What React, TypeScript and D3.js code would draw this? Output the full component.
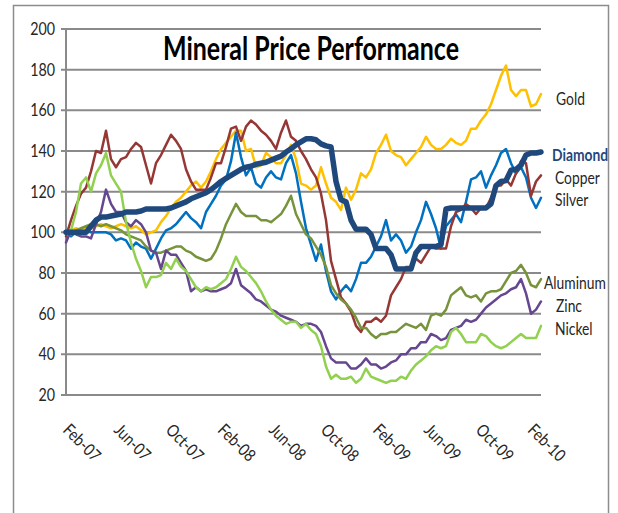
import React from "react";
import * as d3 from "d3";

// ---------- data ----------
const yTicks = [20, 40, 60, 80, 100, 120, 140, 160, 180, 200];
const xTickDates = [
  "2007-02-01", "2007-06-01", "2007-10-01", "2008-02-01", "2008-06-01",
  "2008-10-01", "2009-02-01", "2009-06-01", "2009-10-01", "2010-02-01",
];
const xTickLabels = [
  "Feb-07", "Jun-07", "Oct-07", "Feb-08", "Jun-08",
  "Oct-08", "Feb-09", "Jun-09", "Oct-09", "Feb-10",
];
const dateStart = "2007-02-01";
const dateEnd = "2010-02-25";

const gold = [100, 101, 102, 101, 103, 102, 103, 104, 103, 102, 103, 104, 103, 102, 103, 101, 99, 100, 101, 105, 108, 112, 115, 117, 120, 123, 125, 122, 125, 130, 136, 141, 144, 147, 150, 150, 140, 141, 132, 133, 139, 137, 134, 134, 138, 143, 136, 124, 123, 121, 123, 132, 124, 117, 115, 111, 122, 116, 121, 129, 127, 131, 139, 143, 148, 140, 138, 137, 133, 136, 139, 142, 147, 143, 141, 141, 143, 146, 144, 143, 145, 151, 151, 155, 158, 163, 170, 177, 182, 170, 167, 170, 170, 162, 163, 168];
const silver = [100, 98, 100, 100, 101, 100, 100, 100, 100, 99, 96, 97, 96, 92, 95, 93, 92, 87, 92, 97, 101, 102, 104, 107, 110, 107, 105, 102, 110, 114, 118, 123, 126, 135, 149, 137, 128, 132, 124, 122, 127, 130, 127, 126, 134, 138, 129, 115, 102, 94, 86, 94, 81, 71, 67, 71, 74, 71, 77, 85, 85, 88, 93, 98, 106, 96, 99, 96, 90, 93, 100, 106, 115, 109, 102, 92, 103, 106, 109, 105, 115, 126, 127, 130, 122, 128, 133, 139, 141, 134, 129, 132, 127, 117, 112, 117];
const copper = [98, 106, 113, 119, 122, 130, 140, 139, 150, 136, 132, 136, 137, 141, 144, 142, 133, 124, 134, 138, 143, 148, 145, 141, 131, 125, 121, 121, 121, 127, 134, 134, 142, 151, 152, 145, 152, 155, 153, 150, 148, 145, 141, 149, 155, 147, 145, 140, 136, 131, 127, 119, 106, 86, 77, 68, 65, 61, 54, 51, 56, 56, 58, 56, 59, 69, 73, 77, 83, 83, 87, 85, 89, 93, 92, 92, 92, 103, 110, 111, 114, 112, 109, 112, 112, 117, 123, 123, 126, 123, 129, 135, 134, 118, 125, 128];
const aluminum = [100, 99, 101, 102, 103, 104, 104, 103, 104, 103, 102, 101, 99, 98, 97, 96, 93, 91, 90, 90, 91, 92, 93, 93, 91, 90, 88, 87, 86, 87, 91, 97, 104, 109, 114, 110, 108, 108, 108, 106, 106, 105, 107, 109, 113, 118, 109, 104, 99, 97, 93, 89, 83, 74, 70, 67, 65, 62, 58, 53, 53, 50, 48, 50, 50, 51, 51, 53, 55, 54, 53, 55, 52, 59, 60, 59, 62, 69, 71, 73, 69, 68, 69, 66, 70, 71, 71, 72, 76, 80, 81, 84, 80, 74, 73, 77];
const zinc = [95, 101, 99, 98, 98, 97, 104, 110, 121, 114, 110, 110, 105, 103, 106, 104, 100, 91, 90, 82, 91, 89, 89, 85, 81, 71, 73, 71, 72, 71, 71, 72, 73, 75, 82, 74, 72, 70, 67, 66, 64, 62, 61, 59, 58, 57, 56, 54, 55, 55, 54, 51, 44, 38, 36, 36, 36, 33, 33, 35, 38, 35, 35, 33, 34, 36, 37, 40, 40, 43, 43, 46, 46, 50, 49, 47, 48, 52, 53, 54, 57, 56, 57, 60, 63, 65, 67, 69, 70, 72, 73, 77, 70, 60, 62, 66];
const nickel = [100, 101, 110, 124, 127, 120, 129, 133, 139, 128, 124, 120, 105, 95, 87, 81, 73, 78, 78, 79, 85, 82, 87, 83, 81, 77, 73, 71, 73, 72, 73, 75, 77, 82, 88, 83, 81, 78, 75, 71, 66, 62, 59, 57, 55, 56, 56, 53, 55, 52, 50, 44, 34, 28, 30, 28, 28, 29, 26, 28, 33, 29, 28, 27, 26, 27, 27, 29, 28, 32, 35, 37, 39, 42, 44, 43, 44, 51, 53, 50, 46, 46, 46, 50, 49, 46, 44, 43, 44, 46, 48, 50, 48, 48, 48, 54];
const diamond = [100, 100, 100, 100, 100, 103, 106, 107.5, 107.5, 108, 108.5, 109, 110, 110, 110, 110.5, 111.5, 111.5, 111.5, 111.5, 111.5, 112, 113, 114, 115, 116.5, 117.5, 118.5, 119.5, 121, 123, 125, 126.5, 128, 129.5, 131, 132, 132.5, 133.5, 134, 134.5, 135.5, 136.5, 137.5, 139.5, 141, 143, 144.5, 146, 146, 145.5, 143.5, 142.5, 142, 125, 116, 115, 106, 101.5, 101.5, 101.5, 99, 92, 92, 92, 89, 82, 82, 82, 82, 90, 93, 93, 93, 93, 94, 111.5, 112, 112, 112, 112, 112, 112, 112, 112, 114, 123, 125, 125.5, 130.5, 131, 133, 138, 139, 139, 139.5];

const seriesNames = ["Gold", "Silver", "Copper", "Aluminum", "Zinc", "Nickel", "Diamond"];
const seriesValues = [gold, silver, copper, aluminum, zinc, nickel, diamond];

// ---------- styles / layout ----------
const seriesColors: Record<string, string> = {
  Gold: "#FFC000",
  Silver: "#0070C0",
  Copper: "#953735",
  Aluminum: "#77933C",
  Zinc: "#65478F",
  Nickel: "#92D050",
  Diamond: "#1F497D",
};
const labelLayout: Record<string, { x: number; y: number; bold?: boolean; color?: string }> = {
  Gold: { x: 556, y: 105 },
  Diamond: { x: 552, y: 161, bold: true, color: "#1F497D" },
  Copper: { x: 555, y: 184 },
  Silver: { x: 555, y: 206 },
  Aluminum: { x: 544, y: 289 },
  Zinc: { x: 556, y: 312 },
  Nickel: { x: 555, y: 335 },
};
const legendOrder = ["Gold", "Diamond", "Copper", "Silver", "Aluminum", "Zinc", "Nickel"];

const W = 618;
const H = 513;
const FONT = "Lato, 'Open Sans', sans-serif";
const SX = 0.84; // horizontal squeeze to mimic the narrow Calibri look

export default function App() {
  const left = 66, right = 541, top = 29, bottom = 395;
  const parse = d3.utcParse("%Y-%m-%d");
  const t0 = parse(dateStart) as Date;
  const t1 = parse(dateEnd) as Date;
  const x = d3.scaleUtc().domain([t0, t1]).range([left, right]);
  const y = d3.scaleLinear().domain([20, 200]).range([bottom, top]);

  const paths = seriesNames.map((name, k) => {
    const vals = seriesValues[k];
    const n = vals.length;
    const dateAt = (i: number) => new Date(t0.getTime() + ((t1.getTime() - t0.getTime()) * i) / (n - 1));
    const gen = d3.line<number>().x((_, i) => x(dateAt(i))).y((d) => y(d));
    return { name, d: gen(vals) || "" };
  });

  return (
    <div style={{ position: "absolute", left: 0, top: 0, width: W, height: H, background: "#fff" }}>
      <svg width={W} height={H} style={{ display: "block" }}>
        <rect x={0} y={0} width={W} height={H} fill="#fff" />
        <rect x={13.5} y={5.5} width={595} height={530} fill="none" stroke="#8c8c8c" strokeWidth={1.5} />

        {/* gridlines + y labels */}
        {yTicks.map((t) => (
          <g key={t}>
            <line x1={61} x2={right} y1={y(t)} y2={y(t)} stroke="#8a8a8a" strokeWidth={2} />
            <g transform={`translate(55,${y(t)}) scale(${SX},1)`}>
              <text x={0} y={0} dy="0.36em" textAnchor="end" fontFamily={FONT} fontSize={17} fill="#262626">
                {t}
              </text>
            </g>
          </g>
        ))}
        <line x1={left} x2={left} y1={y(200)} y2={y(20)} stroke="#8a8a8a" strokeWidth={2} />

        {/* x labels */}
        {xTickDates.map((ds, i) => {
          const xp = x(parse(ds) as Date);
          return (
            <g key={ds} transform={`translate(${xp - 4},${431}) rotate(45) scale(${SX},1)`}>
              <text x={0} y={0} fontFamily={FONT} fontSize={17} fill="#262626">
                {xTickLabels[i]}
              </text>
            </g>
          );
        })}

        {/* series */}
        {paths.map((p) => (
          <path
            key={p.name}
            d={p.d}
            fill="none"
            stroke={seriesColors[p.name]}
            strokeWidth={p.name === "Diamond" ? 5.5 : 2.5}
            strokeLinejoin="round"
            strokeLinecap="round"
          />
        ))}

        {/* title */}
        <text x={311} y={60} textAnchor="middle" fontFamily={FONT} fontWeight="bold" fontSize={33}
          textLength={296} lengthAdjust="spacingAndGlyphs" fill="#000">
          Mineral Price Performance
        </text>

        {/* series labels */}
        {legendOrder.map((name) => {
          const l = labelLayout[name];
          return (
            <g key={name} transform={`translate(${l.x},${l.y}) scale(${SX},1)`}>
              <text x={0} y={0} fontFamily={FONT} fontSize={16.5}
                fontWeight={l.bold ? "bold" : "normal"} fill={l.color || "#262626"}>
                {name}
              </text>
            </g>
          );
        })}
      </svg>
    </div>
  );
}
